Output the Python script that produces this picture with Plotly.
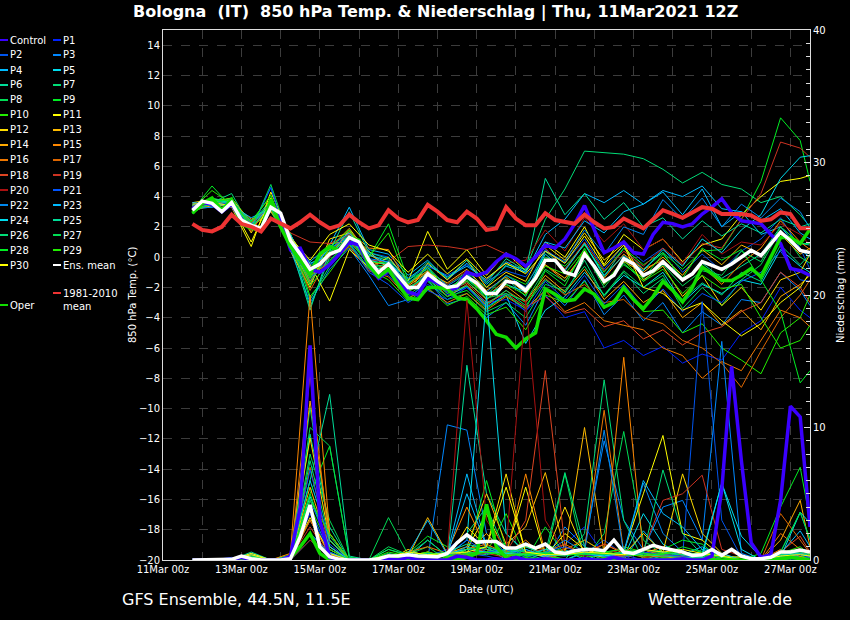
import pandas as pd
import plotly.graph_objects as go

# GFS ensemble run 11Mar2021 12Z, steps every 6 h; the members are shown every 12 h
times_6h = pd.date_range("2021-03-11 18:00", "2021-03-27 12:00", freq="6h")
times_12h = list(pd.date_range("2021-03-11 18:00", "2021-03-27 06:00", freq="12h")) + [pd.Timestamp("2021-03-27 12:00")]

# --- 850 hPa temperature (degC), 6-hourly ---
ens_mean_temp = [
    3.1, 3.7, 3.55, 3.0, 3.6, 2.45, 2.1, 1.9,
    3.3, 2.9, 1.1, 0.2, -0.8, -0.45, 0.2, 0.45,
    1.3, 1.0, -0.2, -1.0, -0.45, -1.2, -2.0, -2.0,
    -1.1, -1.6, -2.0, -1.9, -1.3, -1.7, -2.4, -2.4,
    -1.6, -1.7, -2.2, -1.4, -0.2, -0.2, -1.0, -1.2,
    0.2, -0.6, -1.6, -1.2, -0.1, -0.45, -1.2, -0.9,
    -0.3, -0.9, -1.5, -1.1, -0.3, -0.55, -0.8, -0.45,
    0.0, 0.45, 0.1, 0.9, 1.65, 1.1, 0.45, 0.3,
]
clim_temp = [
    2.2, 1.8, 1.7, 2.0, 2.8, 2.2, 2.0, 1.7,
    2.55, 2.2, 1.9, 2.3, 2.8, 2.3, 1.9, 2.1,
    2.8, 2.3, 1.9, 2.1, 3.1, 2.55, 2.3, 2.45,
    3.45, 3.0, 2.45, 2.3, 3.0, 2.55, 1.8, 1.9,
    3.3, 2.55, 2.1, 2.1, 2.9, 2.45, 2.3, 2.2,
    2.8, 2.3, 1.9, 2.0, 2.55, 2.2, 1.9, 2.5,
    3.1, 2.85, 2.6, 2.95, 3.3, 3.2, 2.85, 2.85,
    2.85, 2.75, 2.4, 2.5, 2.95, 2.85, 1.9, 1.9,
]
oper_temp = [
    2.9, 3.55, 3.9, 3.1, 3.8, 2.2, 1.9, 1.8,
    3.8, 2.0, 0.7, -0.2, -1.1, 0.2, 0.7, 0.45,
    1.3, 1.1, -0.55, -1.3, -0.8, -1.8, -2.7, -2.8,
    -2.0, -2.0, -2.1, -2.7, -2.8, -3.4, -4.2, -5.1,
    -5.3, -6.0, -5.4, -5.0, -2.1, -2.45, -2.9, -2.8,
    -2.1, -2.45, -3.3, -3.0, -2.0, -2.8, -3.4, -2.6,
    -1.6, -2.2, -2.95, -2.0, -0.65, -1.1, -1.55, -1.55,
    -1.2, -0.75, -1.3, 0.0, 1.3, 1.3, 0.9, 1.85,
]
control_temp = [
    3.2, 3.6, 3.5, 3.0, 3.5, 2.4, 2.0, 1.8,
    3.5, 2.6, 0.5, 0.6, -0.8, -1.0, -0.5, 0.2,
    1.0, 0.8, -0.6, -1.4, -0.9, -1.6, -2.3, -2.5,
    -1.4, -1.7, -2.2, -2.0, -1.0, -1.2, -1.0, -0.3,
    0.2, -0.1, -0.6, 0.0, 0.8, 0.6, 1.2, 2.2,
    3.4, 1.8, 0.3, 0.6, 1.0, 0.3, 0.2, 1.5,
    2.3, 2.2, 2.0, 2.2, 2.85, 3.3, 3.85, 2.95,
    2.4, 2.3, 2.2, 1.5, 0.9, -0.75, -0.9, -1.2,
]

# --- precipitation (mm / 6 h), 6-hourly ---
ens_mean_rain = [
    0.0, 0.0, 0.0, 0.0, 0.05, 0.3, 0.1, 0.0,
    0.0, 0.0, 0.1, 1.76, 4.15, 1.0, 0.25, 0.05,
    0.0, 0.0, 0.0, 0.1, 0.3, 0.3, 0.4, 0.3,
    0.25, 0.25, 0.5, 1.3, 1.9, 1.35, 1.4, 1.4,
    0.9, 0.9, 1.2, 0.9, 1.2, 0.6, 0.5, 0.7,
    0.8, 0.8, 0.7, 1.5, 0.6, 0.5, 0.8, 1.1,
    0.9, 0.75, 0.6, 0.35, 0.4, 0.8, 0.35, 0.8,
    0.3, 0.1, 0.1, 0.2, 0.6, 0.6, 0.75, 0.6,
]
control_rain = [
    0.0, 0.0, 0.0, 0.0, 0.0, 0.2, 0.0, 0.0,
    0.0, 0.0, 0.3, 4.0, 16.2, 3.0, 0.2, 0.0,
    0.0, 0.0, 0.0, 0.0, 0.1, 0.0, 0.2, 0.0,
    0.0, 0.0, 0.0, 0.3, 0.2, 0.0, 0.0, 0.1,
    0.0, 0.2, 0.0, 0.0, 0.1, 0.0, 0.0, 0.0,
    0.1, 0.0, 0.0, 0.2, 0.0, 0.0, 0.0, 0.0,
    0.0, 0.0, 0.1, 0.0, 0.0, 0.3, 5.3, 14.6,
    7.5, 1.3, 0.2, 0.4, 4.5, 11.6, 10.8, 2.5,
]
oper_rain = [
    0.0, 0.0, 0.0, 0.0, 0.0, 0.1, 0.0, 0.0,
    0.0, 0.0, 0.2, 1.0, 2.0, 0.5, 0.0, 0.0,
    0.0, 0.0, 0.0, 0.0, 0.1, 0.2, 0.0, 0.0,
    0.0, 0.0, 0.1, 0.0, 0.2, 0.5, 4.2, 1.0,
    0.2, 0.0, 0.1, 0.0, 0.0, 0.1, 0.0, 0.0,
    0.0, 0.0, 0.1, 0.0, 0.0, 0.0, 0.0, 0.0,
    0.1, 0.0, 0.0, 0.0, 0.0, 0.0, 0.0, 0.0,
    0.0, 0.0, 0.0, 0.0, 0.1, 0.2, 0.1, 0.0,
]

# --- perturbed members, temperature every 12 h (06z/18z) ---
t_p1 = [3.3, 3.4, 3.7, 2.0, 4.6, 0.6, -1.5, 0.0, 1.0, -0.8, -1.2,
        -2.6, -1.8, -2.5, -2.0, -3.0, -2.8, -3.5, -2.5, -4.0, -3.6, -6.0,
        -5.5, -6.5, -5.9, -7.0, -6.4, -6.8, -5.0, -4.2, -2.0, -3.5, -4.0]
t_p2 = [3.0, 3.6, 3.4, 2.3, 3.1, 1.3, -0.5, 0.5, 1.6, 0.3, 0.0,
        -1.5, -0.6, -1.2, -0.5, -1.6, -0.9, -1.3, 0.5, -0.4, 1.2, -0.8,
        0.8, -0.3, 0.6, -1.0, 0.2, -0.9, 0.4, 1.2, 2.6, 0.6, -0.8]
t_p3 = [3.4, 3.7, 3.5, 1.8, 3.6, 0.5, -3.0, -0.8, 0.6, -1.2, -3.2,
        -2.8, -1.5, -3.1, -2.7, -4.0, -3.0, -4.5, -2.0, -3.2, -1.5, -3.8,
        -2.5, -4.2, -3.0, -5.0, -3.6, -4.5, -2.8, -3.0, -1.0, -2.2, -3.2]
t_p4 = [3.5, 3.5, 3.8, 2.0, 3.4, 1.0, -0.3, 0.8, 3.3, 0.5, 0.2,
        -1.2, -0.2, -1.5, -0.4, -1.8, -0.6, -1.0, 1.5, 2.5, 4.2, 3.6,
        4.4, 3.5, 4.3, 2.8, 4.5, 2.0, 3.0, 1.5, 2.0, 0.5, 0.0]
t_p5 = [3.2, 3.3, 3.5, 2.4, 3.0, 1.5, -1.0, 0.3, 1.5, -0.6, -0.9,
        -2.3, -1.4, -2.6, -1.9, -3.3, -2.5, -5.7, -3.5, -2.6, -1.0, -2.5,
        -1.2, -2.0, -1.0, -3.0, -1.8, -2.4, -1.5, -1.8, 0.5, -0.6, -1.0]
t_p6 = [3.0, 3.9, 3.4, 2.2, 3.8, 1.2, -3.3, 0.0, 1.8, 0.1, -0.2,
        -1.8, -0.7, -2.3, -1.0, -2.8, -1.4, -2.6, 0.4, -0.8, 0.9, -1.3,
        0.6, -0.8, 0.3, -1.6, -0.4, -1.4, -0.6, 0.2, 2.0, 0.9, 0.8]
t_p7 = [3.3, 3.6, 4.2, 1.9, 3.5, 1.4, -0.6, 0.5, 1.4, -0.4, -0.3,
        -1.7, -0.9, -1.8, -1.0, -2.0, -0.5, -0.8, 2.5, 4.5, 7.0, 6.9,
        6.8, 6.5, 5.8, 4.9, 5.6, 4.8, 4.5, 3.6, 4.0, 2.8, 2.0]
t_p8 = [2.9, 3.8, 3.6, 2.0, 3.0, 0.8, -1.4, -0.2, 1.1, -0.5, -0.8,
        -2.5, -1.6, -2.8, -2.4, -3.6, -3.0, -4.0, -1.8, -2.2, -0.6, -2.5,
        -0.9, -2.0, -1.2, -3.4, -2.0, -3.2, -1.5, -0.5, 1.8, 0.0, -0.4]
t_p9 = [3.1, 4.7, 3.3, 2.4, 4.0, 1.0, -1.2, 0.4, 1.2, 0.0, 2.2,
        -1.5, -0.8, -2.2, -1.5, -2.5, -1.2, -1.8, 0.0, -0.6, 0.8, -1.0,
        0.6, -0.5, 0.3, -0.8, 0.4, 0.5, 2.5, 5.0, 9.2, 7.7, 5.0]
t_p10 = [3.0, 3.7, 3.9, 2.3, 3.2, 1.6, -2.6, -1.0, 0.8, -0.8, -1.5,
         -2.9, -2.0, -3.2, -2.6, -3.8, -3.3, -4.8, -2.5, -3.0, -1.6, -3.4,
         -2.2, -3.6, -3.5, -5.0, -4.4, -6.0, -6.8, -7.7, -5.0, -4.0, -2.5]
t_p11 = [3.4, 3.5, 3.3, 0.7, 4.3, 1.4, -0.5, -2.9, 0.5, -0.7, 0.0,
         -1.6, 1.7, -0.8, 0.5, -1.2, 0.3, -0.9, 1.0, 0.0, 2.0, -0.5,
         1.5, 0.5, 1.2, -0.3, 0.8, 1.2, 2.8, 4.0, 5.0, 5.2, 5.4]
t_p12 = [3.6, 3.8, 3.7, 1.6, 3.9, 0.4, -2.0, 1.2, 1.6, 0.4, -0.8,
         -2.4, -0.4, -1.5, -0.2, -2.0, -1.0, -1.6, 0.8, -0.2, 1.6, -0.2,
         0.9, -1.5, -0.6, -2.6, -1.2, -3.2, -2.0, -3.5, -1.5, -1.0, 0.2]
t_p13 = [3.3, 3.6, 3.9, 2.2, 3.4, 0.9, -1.8, 0.6, 1.9, 0.2, -0.6,
         -1.9, -1.0, -1.7, -0.8, -2.2, -1.3, -2.4, -0.5, -1.4, 0.3, -1.8,
         -0.3, -1.0, 0.0, -1.2, 0.5, -0.5, 0.8, 0.2, 1.5, 0.2, 0.6]
t_p14 = [3.1, 3.4, 3.6, 2.5, 3.0, 1.3, -1.0, 0.9, 1.0, -0.3, -0.5,
         -2.2, -1.3, -2.1, -1.6, -2.8, -1.9, -2.9, -1.2, -2.3, -0.8, -2.8,
         -1.6, -3.0, -2.2, -4.0, -3.0, -4.5, -3.5, -4.8, -2.6, -1.8, -1.2]
t_p15 = [3.2, 3.6, 3.5, 1.9, 3.2, 1.0, -1.6, 0.2, 1.7, 0.6, 0.5,
         -1.8, -0.9, -2.2, -1.2, -2.6, -1.5, -2.0, -0.5, -1.6, 0.4, -1.4,
         0.2, -0.8, -0.2, -1.6, -0.6, -1.8, -0.4, 0.6, 2.4, 1.0, 0.5]
t_p16 = [3.0, 3.5, 3.4, 2.1, 3.1, 1.2, -1.2, -0.4, 0.7, -0.9, -1.3,
         -2.7, -2.1, -3.0, -2.4, -3.5, -2.6, -3.4, -2.2, -3.6, -3.0, -4.2,
         -4.5, -4.8, -6.0, -6.5, -8.0, -6.9, -7.5, -5.5, -3.5, -4.0, -4.6]
t_p17 = [3.4, 3.7, 3.8, 1.7, 3.6, 0.7, -2.2, 0.1, 1.4, -0.1, -1.0,
         -2.3, -1.2, -2.6, -1.8, -3.2, -2.2, -3.0, -1.4, -2.5, -1.8, -3.0,
         -2.8, -4.0, -4.4, -5.5, -6.0, -7.0, -8.6, -6.2, -4.0, -2.5, -1.5]
t_p18 = [3.2, 3.6, 3.6, 2.3, 3.4, 1.1, -0.9, 0.3, 1.2, -0.4, -0.7,
         -2.1, -1.4, -2.3, -1.7, -3.0, -2.4, -3.3, -2.6, -3.7, -3.4, -4.6,
         -4.2, -5.4, -4.8, -5.8, -5.0, -4.6, -3.6, -3.0, -1.0, -2.0, -3.0]
t_p19 = [3.3, 3.5, 3.5, 2.2, 3.3, 1.6, 1.0, 0.9, 1.5, -0.2, -0.3,
         0.7, 0.8, 0.7, 0.5, 0.8, 0.2, -0.5, 0.6, -0.8, 1.0, -0.9,
         0.4, -0.6, 0.6, -0.5, 0.9, 0.6, 2.5, 4.2, 7.6, 7.2, 6.6]
t_p20 = [3.1, 3.7, 3.4, 2.0, 3.5, 1.3, -0.7, 0.0, 1.2, -0.5, -0.6,
         -2.0, -1.2, -1.8, -0.9, -1.5, -0.4, -0.2, 1.8, 0.4, 2.6, 1.0,
         2.2, 0.5, 1.2, -0.4, 1.5, 0.2, 1.0, 0.8, 2.2, 1.5, 0.8]
t_p21 = [3.5, 3.4, 3.6, 1.8, 4.6, 0.4, -1.3, -0.5, 0.9, -1.0, -1.8,
         -3.0, -2.2, -2.8, -2.0, -3.3, -2.4, -3.6, -1.6, -2.8, -1.2, -3.1,
         -1.8, -3.4, -2.1, -3.6, -2.4, -3.0, -1.6, -1.0, 0.4, -1.5, -1.6]
t_p22 = [3.2, 3.3, 3.8, 2.2, 3.3, 0.9, -0.8, 0.6, 1.3, -0.1, -0.3,
         -1.7, -0.7, -1.9, -1.1, -2.3, -1.2, -2.0, 0.4, -0.3, 1.8, 0.2,
         2.0, 1.5, 3.8, 2.5, 3.9, 2.0, 3.5, 2.6, 3.9, 3.0, 1.9]
t_p23 = [3.6, 3.5, 3.4, 2.6, 3.2, 1.5, -1.1, 0.7, 1.6, 0.2, -0.4,
         -1.4, -0.5, -1.3, -0.6, -1.5, -0.3, -1.0, 1.0, 0.6, 2.4, 1.6,
         3.0, 3.5, 4.4, 4.0, 4.7, 3.2, 3.0, 2.4, 3.2, 1.6, 1.2]
t_p24 = [3.0, 3.6, 3.7, 1.9, 3.5, 1.1, -0.4, 0.1, 1.4, -0.2, -0.5,
         -2.2, -1.0, -2.0, -1.4, -2.5, -1.8, -2.3, 0.2, -0.9, 0.9, -1.2,
         0.1, -0.9, 0.5, -0.6, 1.2, 0.3, 1.8, 2.8, 5.2, 6.6, 6.7]
t_p25 = [3.3, 3.8, 3.5, 2.1, 3.7, 0.8, -3.5, 0.4, 3.0, 0.3, -0.1,
         -1.6, -0.3, -1.4, -0.2, -1.7, -0.1, -0.9, 5.2, 2.8, 4.2, 2.5,
         3.6, 2.0, 2.6, 1.2, 2.4, 1.4, 2.2, 1.6, 2.5, 2.0, 2.2]
t_p26 = [3.4, 3.9, 3.6, 2.4, 3.4, 1.2, -2.8, -0.6, 0.9, -0.7, -0.8,
         -2.0, -1.3, -2.4, -1.9, -3.1, -2.2, -3.2, -1.5, -2.4, -0.2, -2.6,
         -1.0, -2.4, -1.4, -2.8, -1.7, -2.5, -1.0, -1.6, 0.8, -0.5, 0.2]
t_p27 = [3.1, 3.5, 3.9, 1.8, 4.8, 1.0, -1.7, 0.3, 1.3, -0.5, -0.6,
         -2.1, -1.2, -2.4, -1.6, -2.7, -2.4, -2.9, -0.8, -1.6, 0.3, -2.0,
         -0.4, -1.6, -0.5, -1.9, -0.9, -1.2, 0.4, -0.3, 2.0, 0.9, 0.9]
t_p28 = [2.9, 3.7, 3.8, 2.0, 3.2, 0.6, -1.9, -0.3, 1.0, -0.3, -0.4,
         -2.3, -1.5, -2.6, -2.2, -3.4, -2.5, -3.4, -0.9, -1.9, 0.6, -1.8,
         -0.5, -1.4, 0.2, -1.4, 0.6, -0.2, 0.5, -1.5, -3.6, -8.3, -7.5]
t_p29 = [3.2, 4.4, 3.5, 2.3, 4.1, 0.9, -1.4, 0.6, 1.8, 0.0, 1.6,
         -1.8, -0.6, -2.1, -1.3, -2.6, -1.8, -2.5, -0.6, -1.1, 0.5, -1.7,
         -0.2, -1.6, -0.8, -2.4, -1.2, -2.1, -1.8, -4.0, -6.0, -5.5, -4.5]
t_p30 = [3.5, 3.6, 3.4, 1.0, 3.8, 1.3, -0.2, 1.5, 2.2, 0.8, 0.4,
         -1.0, 0.2, -1.1, -0.1, -1.4, -0.4, -1.1, 0.4, -0.4, 1.4, -0.6,
         0.8, -2.0, -2.4, -3.5, -3.0, -4.2, -5.2, -4.4, -3.0, -2.0, -1.0]

# --- perturbed members, precipitation every 12 h (06z/18z) ---
r_p1 = [0, 0, 0.2, 0, 0, 0.1, 3.5, 0.5, 0, 0, 0.2,
        0, 0.3, 0.8, 2.0, 1.0, 0.5, 0, 0.6, 1.2, 2.5, 0.4,
        0, 0.8, 0.2, 0, 0.5, 0, 0, 0, 0.4, 0.6, 0.2]
r_p2 = [0, 0, 0, 0.1, 0, 0, 2.0, 0.6, 0, 0, 0,
        0, 0, 0, 0.5, 0.3, 0, 0.8, 0.2, 0, 0.5, 1.5,
        0.4, 0, 0.3, 0.2, 19.5, 3.0, 0.2, 0, 0, 0.3, 0]
r_p3 = [0, 0, 0.1, 0.2, 0, 0, 4.5, 1.0, 0, 0, 0,
        0.3, 0, 10.2, 9.8, 2.0, 0.5, 0, 0, 2.5, 1.0, 9.0,
        3.0, 0.8, 4.0, 4.5, 1.5, 16.5, 0.5, 0, 0, 0, 0]
r_p4 = [0, 0, 0, 0.5, 0, 0, 1.5, 0.3, 0, 0, 0,
        0, 0.4, 0.5, 6.5, 1.0, 0, 0.5, 0.3, 0, 0.6, 0.2,
        0, 2.2, 0.5, 0.4, 1.0, 0.2, 0, 0, 0.5, 2.2, 1.0]
r_p5 = [0, 0, 0, 0.3, 0, 0.2, 6.0, 1.5, 0, 0, 0,
        0.2, 1.5, 0.3, 1.5, 20.0, 2.0, 0.6, 0.2, 0.8, 0, 0.5,
        0.2, 3.5, 1.2, 0.3, 0.5, 5.8, 1.8, 0.2, 0, 0.8, 0.4]
r_p6 = [0, 0, 0, 0.6, 0, 0, 9.5, 2.5, 0, 0, 0,
        0, 0, 0, 14.7, 5.0, 2.0, 0.5, 0, 0, 0.6, 0,
        0.3, 0.6, 0, 0.2, 0, 0, 0.3, 0, 0, 0.5, 0.3]
r_p7 = [0, 0, 0, 0.2, 0, 0.3, 11.5, 1.8, 0, 0, 0.5,
        0.2, 0.4, 0.6, 2.0, 4.0, 0.6, 1.0, 0.5, 0, 2.0, 13.6,
        3.0, 0, 0.5, 0, 0.8, 0, 0, 0, 0.3, 0.2, 0.2]
r_p8 = [0, 0, 0, 0.1, 0, 0, 8.0, 3.0, 0, 0, 3.2,
        0.4, 1.0, 0, 0.8, 1.5, 1.2, 0.3, 0, 6.5, 0, 2.0,
        9.7, 1.5, 0.4, 0, 0.2, 0, 0, 0, 0.6, 0.4, 0]
r_p9 = [0, 0, 0, 0, 0, 0.4, 5.0, 8.6, 0.2, 0, 0.3,
        0.5, 1.8, 1.0, 0.4, 6.0, 0.8, 0, 2.5, 0.4, 1.5, 0.6,
        0.8, 0.3, 0.8, 1.5, 1.2, 0, 0, 0.5, 4.0, 7.0, 3.0]
r_p10 = [0, 0, 0, 0.3, 0, 0.2, 4.0, 1.0, 0, 0, 0.8,
         0.3, 0.6, 0.2, 1.0, 0.5, 3.5, 0.3, 1.2, 0.6, 0.2, 0.4,
         1.0, 0.6, 0.3, 0, 0, 0, 0, 0, 0, 0.2, 0.5]
r_p11 = [0, 0, 0, 0.5, 0, 0.1, 3.0, 0.4, 0, 0, 0.4,
         0, 0.6, 0.2, 0.8, 3.5, 0.5, 5.5, 0.3, 2.0, 0.8, 0.4,
         0.6, 5.0, 9.4, 2.0, 1.5, 0.3, 0.2, 0, 0.2, 0.5, 0.4]
r_p12 = [0, 0, 0.1, 0.2, 0, 0.3, 9.2, 1.5, 0, 0, 0,
         0.8, 0.2, 0, 2.5, 1.0, 6.5, 0.5, 0.3, 4.0, 0.5, 0.2,
         0.4, 2.0, 0.6, 6.5, 2.0, 0.5, 0, 0, 0.4, 0.8, 0.3]
r_p13 = [0, 0, 0, 0.2, 0, 0.2, 5.5, 0.8, 0, 0, 0,
         0.2, 3.2, 0.5, 1.0, 5.0, 1.2, 2.5, 6.6, 0.6, 10.0, 0.5,
         0.8, 0.3, 0.4, 0.2, 0.2, 0, 0, 0, 0.6, 0.5, 0.2]
r_p14 = [0, 0, 0, 0.1, 0, 0, 12.0, 2.0, 0, 0, 0,
         0.4, 0.2, 0.3, 0.6, 2.0, 0.3, 1.0, 0.8, 0.5, 0.4, 1.2,
         0.5, 0.8, 0.3, 0, 0.4, 0, 0, 0, 1.5, 4.5, 1.0]
r_p15 = [0, 0, 0, 0.2, 0, 0.5, 20.0, 2.0, 0, 0, 0,
         0.2, 0.3, 0.6, 4.0, 0.8, 0.4, 6.5, 0.5, 0.8, 1.5, 0.6,
         15.3, 0.5, 1.0, 0.4, 0.2, 0, 0, 0, 0.8, 0.3, 0]
r_p16 = [0, 0, 0, 0.1, 0, 0, 14.0, 1.0, 0, 0, 0,
         0.6, 1.0, 0.5, 0.8, 1.2, 0.5, 1.5, 0.2, 0.4, 0.8, 11.3,
         0.6, 0.2, 0.3, 0.4, 0.5, 0.2, 0, 0, 2.0, 0.8, 0.5]
r_p17 = [0, 0, 0, 0.3, 0, 0.2, 7.0, 0.8, 0, 0, 0,
         0.3, 0.6, 0.2, 0.5, 0.8, 0.4, 0.5, 0.6, 1.2, 0.4, 0.6,
         0.2, 0.5, 0.2, 0.3, 0.4, 0, 0, 0, 3.5, 1.5, 0.5]
r_p18 = [0, 0, 0, 0.2, 0, 0.1, 3.0, 0.4, 0, 0, 0,
         0, 0.2, 0, 0.4, 1.0, 0.6, 3.0, 14.3, 1.0, 0.5, 0.6,
         0.3, 0.8, 0.4, 0.6, 0.2, 0, 0, 0, 0.6, 1.8, 0.6]
r_p19 = [0, 0, 0, 0.3, 0, 0.2, 2.5, 0.3, 0, 0, 0,
         0.2, 0, 0.5, 0.3, 0.5, 0.2, 0.6, 0.8, 0.4, 0.6, 1.2,
         0.6, 0.8, 4.5, 5.0, 6.4, 0.8, 0.3, 0, 0.4, 0.6, 0.2]
r_p20 = [0, 0, 0, 0.1, 0, 0, 1.5, 0.3, 0, 0, 0,
         0, 0.3, 0.5, 19.6, 3.0, 0.8, 19.6, 3.0, 0.6, 0.3, 0.5,
         0.8, 0.6, 0.3, 0.2, 0, 0, 0, 0, 0.5, 0.8, 0.3]
r_p21 = [0, 0, 0, 0.2, 0, 0, 6.8, 1.2, 0, 0, 0,
         0.3, 0.2, 0.4, 1.5, 0.6, 0.8, 0.2, 0.6, 1.0, 0.4, 0.3,
         0.2, 0.6, 0.4, 0.3, 0.2, 0, 0, 0, 0.2, 0.4, 0.2]
r_p22 = [0, 0, 0, 0.1, 0, 0, 3.8, 0.6, 0, 0, 0,
         0.2, 0.5, 0.3, 1.0, 0.5, 0.8, 0.4, 0.5, 1.5, 0.6, 9.8,
         0.5, 5.8, 2.0, 0.6, 0.4, 0.2, 0, 0, 0.6, 3.6, 1.5]
r_p23 = [0, 0, 0, 0.4, 0, 0.3, 2.0, 0.5, 0, 0, 0,
         0.5, 3.0, 0.4, 5.0, 1.0, 0.5, 0.8, 0.3, 0.4, 0.5, 0.3,
         0.6, 6.0, 3.5, 2.5, 0.8, 0.5, 0, 0, 0.4, 0.5, 0.3]
r_p24 = [0, 0, 0, 0.2, 0, 0.1, 4.8, 1.0, 0, 0, 0,
         0.6, 0.4, 0.5, 0.8, 0.6, 0.5, 0.4, 0.8, 0.6, 0.5, 0.3,
         0.5, 0.8, 0.6, 0.4, 0.3, 5.8, 0.8, 0, 0.2, 3.6, 2.8]
r_p25 = [0, 0, 0, 0.3, 0, 0.2, 6.0, 12.5, 0.3, 0, 0,
         0.2, 0.3, 0.6, 1.2, 0.8, 0.5, 1.0, 0.4, 0.3, 0.6, 0.5,
         0.4, 0.4, 0.3, 0.2, 0.2, 0, 0, 0, 0.3, 0.5, 0.3]
r_p26 = [0, 0, 0, 0.2, 0, 0, 7.5, 1.5, 0, 0, 0.8,
         0.4, 0.5, 0.5, 0.6, 0.4, 0.8, 0.6, 0.5, 6.6, 1.0, 0.4,
         0.6, 0.5, 6.8, 2.0, 0.4, 0.3, 0, 0, 0.4, 0.6, 0.4]
r_p27 = [0, 0, 0, 0.3, 0, 0.3, 10.0, 8.6, 0.2, 0, 1.0,
         0.4, 1.5, 0.3, 0.8, 1.0, 0.6, 0.4, 0.6, 0.5, 0.5, 0.4,
         0.6, 0.8, 0.5, 0.4, 0.3, 0, 0, 0, 0.5, 0.8, 0.6]
r_p28 = [0, 0, 0, 0.1, 0, 0, 5.0, 0.8, 0, 0, 0,
         0.3, 0.2, 0.3, 0.5, 0.6, 0.4, 0.3, 0.5, 0.4, 0.4, 0.6,
         0.8, 0.5, 0.4, 1.0, 0.6, 0.3, 0, 0, 0.6, 3.6, 1.6]
r_p29 = [0, 0, 0, 0.2, 0, 0.2, 4.5, 2.0, 0, 0, 0.6,
         0.3, 0.6, 0.2, 0.4, 0.6, 0.3, 0.5, 0.4, 0.6, 0.8, 0.6,
         0.4, 0.3, 0.5, 0.6, 0.4, 0.2, 0, 0, 0.5, 1.0, 0.4]
r_p30 = [0, 0, 0, 0.4, 0, 0.2, 3.2, 0.5, 0, 0, 0.2,
         0.6, 0.4, 0.5, 0.6, 1.0, 5.5, 0.6, 0.4, 0.4, 0.6, 0.5,
         0.4, 0.8, 0.6, 0.8, 0.5, 0.3, 0, 0, 0.3, 0.4, 0.3]

member_names = ["P%d" % i for i in range(1, 31)]
member_colors = ["#0022ff", "#0055ee", "#0088ff", "#00bbff", "#00ddee",
                 "#00dd99", "#00dd77", "#00dd55", "#00ee22", "#22ee00",
                 "#ffff00", "#ffdd00", "#ffbb00", "#ffaa00", "#ff8800",
                 "#ee7700", "#dd6600", "#dd4422", "#cc3322", "#aa1111",
                 "#0055ff", "#0088ee", "#00bbff", "#00ddee", "#00dd99",
                 "#00dd77", "#00dd55", "#00ee22", "#22ee00", "#ffff00"]
member_temp = [t_p1, t_p2, t_p3, t_p4, t_p5, t_p6, t_p7, t_p8, t_p9, t_p10,
               t_p11, t_p12, t_p13, t_p14, t_p15, t_p16, t_p17, t_p18, t_p19, t_p20,
               t_p21, t_p22, t_p23, t_p24, t_p25, t_p26, t_p27, t_p28, t_p29, t_p30]
member_rain = [r_p1, r_p2, r_p3, r_p4, r_p5, r_p6, r_p7, r_p8, r_p9, r_p10,
               r_p11, r_p12, r_p13, r_p14, r_p15, r_p16, r_p17, r_p18, r_p19, r_p20,
               r_p21, r_p22, r_p23, r_p24, r_p25, r_p26, r_p27, r_p28, r_p29, r_p30]

CONTROL = "#3a00ff"
OPER = "#11dd00"
MEAN = "#ffffff"
CLIM = "#ee3333"
FONT = "DejaVu Sans"

fig = go.Figure()

for name, col, temp in zip(member_names, member_colors, member_temp):
    fig.add_trace(go.Scatter(x=times_12h, y=temp, mode="lines", name=name,
                             line=dict(color=col, width=1)))
for name, col, rain in zip(member_names, member_colors, member_rain):
    fig.add_trace(go.Scatter(x=times_12h, y=rain, mode="lines", name=name, yaxis="y2",
                             line=dict(color=col, width=1)))

# thick lines on top
fig.add_trace(go.Scatter(x=times_6h, y=control_temp, mode="lines", line=dict(color=CONTROL, width=3.5)))
fig.add_trace(go.Scatter(x=times_6h, y=oper_temp, mode="lines", line=dict(color=OPER, width=3.5)))
fig.add_trace(go.Scatter(x=times_6h, y=ens_mean_temp, mode="lines", line=dict(color=MEAN, width=3.5)))
fig.add_trace(go.Scatter(x=times_6h, y=clim_temp, mode="lines", line=dict(color=CLIM, width=4)))
fig.add_trace(go.Scatter(x=times_6h, y=oper_rain, mode="lines", yaxis="y2", line=dict(color=OPER, width=3.5)))
fig.add_trace(go.Scatter(x=times_6h, y=control_rain, mode="lines", yaxis="y2", line=dict(color=CONTROL, width=3.5)))
fig.add_trace(go.Scatter(x=times_6h, y=ens_mean_rain, mode="lines", yaxis="y2", line=dict(color=MEAN, width=3.5)))

# axes
day_ticks = pd.date_range("2021-03-11", "2021-03-27", freq="D")
day_text = [d.strftime("%d") + "Mar 00z" if i % 2 == 0 else "" for i, d in enumerate(day_ticks)]

GRID = "#3c3c3c"
FRAME = "#dddddd"

fig.update_layout(
    width=850, height=620,
    margin=dict(l=163, r=40, t=30, b=60),
    paper_bgcolor="black", plot_bgcolor="black",
    font=dict(family=FONT, color="white", size=10),
    showlegend=False, hovermode=False,
    xaxis=dict(range=["2021-03-11 00:00", "2021-03-27 12:00"], tickmode="array",
               tickvals=list(day_ticks), ticktext=day_text, ticks="",
               showgrid=True, gridcolor=GRID, griddash="dash", gridwidth=1,
               showline=True, linecolor=FRAME, linewidth=1, mirror=True,
               zeroline=False, automargin=False, tickfont=dict(size=10)),
    yaxis=dict(range=[-20, 15], tickmode="array", tickvals=list(range(-20, 15, 2)),
               ticks="", showgrid=True, gridcolor=GRID, griddash="dash", gridwidth=1,
               showline=True, linecolor=FRAME, linewidth=1, mirror=True,
               zeroline=False, automargin=False, tickfont=dict(size=10)),
    yaxis2=dict(range=[0, 40], overlaying="y", side="right", tickmode="linear",
                tick0=0, dtick=10, ticks="inside", ticklen=6, tickcolor=FRAME,
                minor=dict(dtick=1, ticks="inside", ticklen=4, tickcolor=FRAME, showgrid=False),
                showgrid=False, zeroline=False, showline=True, linecolor=FRAME,
                automargin=False, tickfont=dict(size=10)),
)

# pixel helpers for the texts placed around the plot area
X0, X1, Y0, Y1 = 163, 810, 30, 560


def px(x):
    return (x - X0) / (X1 - X0)


def py(y):
    return (Y1 - y) / (Y1 - Y0)


annotations = [
    dict(x=px(435), y=py(12), text="<b>Bologna\u00a0\u00a0(IT)\u00a0\u00a0850 hPa Temp. &amp; Niederschlag | Thu, 11Mar2021 12Z</b>",
         font=dict(size=16)),
    dict(x=px(120), y=py(599), text="GFS Ensemble, 44.5N, 11.5E", xanchor="left", font=dict(size=16)),
    dict(x=px(794), y=py(599), text="Wetterzentrale.de", xanchor="right", font=dict(size=16)),
    dict(x=px(486), y=py(589), text="Date (UTC)", font=dict(size=10)),
    dict(x=px(132), y=py(295), text="850 hPa Temp. (°C)", textangle=-90, font=dict(size=10)),
    dict(x=px(840), y=py(295), text="Niederschlag (mm)", textangle=-90, font=dict(size=10)),
]
shapes = []

# hand-made two-column legend at the left
legend_items = [("Control", CONTROL, 0, 40)]
for i, (name, col) in enumerate(zip(member_names, member_colors)):
    column = 1 if i % 2 == 0 else 0
    row = (i + 1) // 2
    legend_items.append((name, col, column, 40 + 15 * row))
legend_items.append(("Ens. mean", MEAN, 1, 265))
legend_items.append(("Oper", OPER, 0, 305))
legend_items.append(("1981-2010<br>mean", CLIM, 1, 293))

for label, col, column, y in legend_items:
    lx = 0 if column == 0 else 53
    shapes.append(dict(type="line", xref="paper", yref="paper",
                       x0=px(lx), x1=px(lx + 8), y0=py(y), y1=py(y),
                       line=dict(color=col, width=2)))
    ann = dict(x=px(lx + 8), y=py(y), text=label, xanchor="left", yanchor="middle",
               font=dict(size=10))
    if "<br>" in label:
        ann.update(y=py(y - 7), yanchor="top", align="left")
    annotations.append(ann)

for a in annotations:
    a.setdefault("xref", "paper")
    a.setdefault("yref", "paper")
    a.setdefault("showarrow", False)
    a.setdefault("xanchor", "center")
    a.setdefault("yanchor", "middle")
    a["font"].setdefault("family", FONT)
    a["font"].setdefault("color", "white")

fig.update_layout(annotations=annotations, shapes=shapes)

# the page body has a default 8px margin; drop it so the 850x620 figure fills the window
fig.write_html("out.html", config={"displayModeBar": False},
               post_script="document.body.style.margin='0px';")
